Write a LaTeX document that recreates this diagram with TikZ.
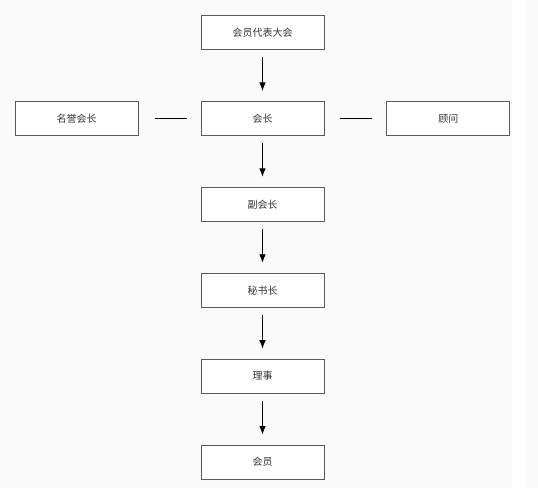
\documentclass[tikz,border=0pt]{standalone}
\usepackage{fontspec}
\newfontfamily\cjk{Noto Sans CJK SC}
\usetikzlibrary{positioning,arrows.meta}

\definecolor{pagegray}{HTML}{FAFAFA}
\definecolor{boxline}{HTML}{5A5A5A}
\definecolor{boxtext}{HTML}{333333}

\tikzset{
    orgbox/.style={draw=boxline, line width=0.9pt, fill=white, minimum width=123pt,
        minimum height=34pt, inner sep=0pt, text=boxtext, font=\cjk\fontsize{10pt}{12pt}\selectfont},
    downarrow/.style={line width=0.9pt, -{Latex[length=8.5pt,width=6.5pt]}, shorten <=7pt, shorten >=10pt},
    sideline/.style={line width=0.9pt, shorten <=16pt, shorten >=14pt}
}

\begin{document}
\begin{tikzpicture}[x=1pt, y=1pt]
    % Page background
    \fill[pagegray] (0,0) rectangle (538,-488);
    \fill[white] (512,0) rectangle (526,-488);
    \useasboundingbox (0,0) rectangle (538,-488);

    % Main chain of the association
    \node[orgbox] (congress) at (262.5,-32.5) {会员代表大会};
    \node[orgbox, below=51pt of congress] (president) {会长};
    \node[orgbox, below=51pt of president] (vice) {副会长};
    \node[orgbox, below=51pt of vice] (secretary) {秘书长};
    \node[orgbox, below=51pt of secretary] (director) {理事};
    \node[orgbox, below=51pt of director] (member) {会员};

    % Side boxes next to the president
    \node[orgbox, left=62pt of president] (honorary) {名誉会长};
    \node[orgbox, right=62pt of president] (advisor) {顾问};

    % Arrows down the chain
    \draw[downarrow] (congress) -- (president);
    \draw[downarrow] (president) -- (vice);
    \draw[downarrow] (vice) -- (secretary);
    \draw[downarrow] (secretary) -- (director);
    \draw[downarrow] (director) -- (member);

    % Short lines to the side boxes
    \draw[sideline] (honorary) -- (president);
    \draw[sideline] (president) -- (advisor);
\end{tikzpicture}
\end{document}
